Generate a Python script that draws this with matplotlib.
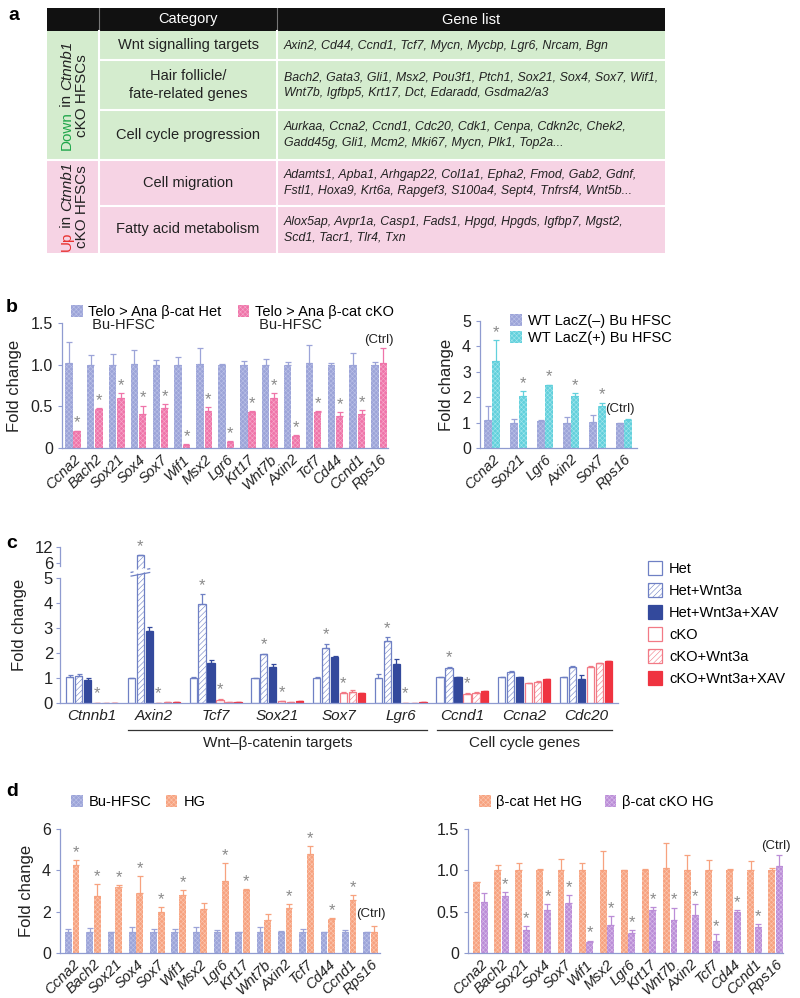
import matplotlib.pyplot as plt
import numpy as np
from matplotlib.patches import Patch, Rectangle
import matplotlib.transforms as mtransforms

plt.rcParams['font.family'] = ['Liberation Sans', 'DejaVu Sans']
plt.rcParams['hatch.linewidth'] = 0.4

W, H = 800, 998

# ---------------- data ----------------
# panel a
table_header = ['Category', 'Gene list']
table_cats = ['Wnt signalling targets', 'Hair follicle/\nfate-related genes', 'Cell cycle progression',
              'Cell migration', 'Fatty acid metabolism']
table_genes = ['Axin2, Cd44, Ccnd1, Tcf7, Mycn, Mycbp, Lgr6, Nrcam, Bgn',
               'Bach2, Gata3, Gli1, Msx2, Pou3f1, Ptch1, Sox21, Sox4, Sox7, Wif1,\nWnt7b, Igfbp5, Krt17, Dct, Edaradd, Gsdma2/a3',
               'Aurkaa, Ccna2, Ccnd1, Cdc20, Cdk1, Cenpa, Cdkn2c, Chek2,\nGadd45g, Gli1, Mcm2, Mki67, Mycn, Plk1, Top2a...',
               'Adamts1, Apba1, Arhgap22, Col1a1, Epha2, Fmod, Gab2, Gdnf,\nFstl1, Hoxa9, Krt6a, Rapgef3, S100a4, Sept4, Tnfrsf4, Wnt5b...',
               'Alox5ap, Avpr1a, Casp1, Fads1, Hpgd, Hpgds, Igfbp7, Mgst2,\nScd1, Tacr1, Tlr4, Txn']

# panel b left
genes_b = ['Ccna2', 'Bach2', 'Sox21', 'Sox4', 'Sox7', 'Wif1', 'Msx2', 'Lgr6', 'Krt17', 'Wnt7b',
           'Axin2', 'Tcf7', 'Cd44', 'Ccnd1', 'Rps16']
het_b = [1.02, 1.0, 1.0, 1.01, 1.0, 1.0, 1.01, 1.0, 1.0, 1.0, 1.0, 1.02, 1.0, 1.0, 1.0]
het_b_err = [0.25, 0.12, 0.13, 0.17, 0.06, 0.09, 0.19, 0.01, 0.05, 0.07, 0.03, 0.22, 0.02, 0.14, 0.03]
cko_b = [0.2, 0.47, 0.6, 0.41, 0.48, 0.04, 0.44, 0.07, 0.43, 0.6, 0.15, 0.43, 0.38, 0.41, 1.02]
cko_b_err = [0.01, 0.01, 0.06, 0.1, 0.05, 0.01, 0.05, 0.01, 0.01, 0.06, 0.01, 0.01, 0.05, 0.05, 0.18]
cko_b_sig = [1] * 14 + [0]

# panel b right
genes_b2 = ['Ccna2', 'Sox21', 'Lgr6', 'Axin2', 'Sox7', 'Rps16']
lacz_neg = [1.12, 1.0, 1.05, 1.0, 1.02, 0.98]
lacz_neg_err = [0.53, 0.13, 0.06, 0.22, 0.29, 0.01]
lacz_pos = [3.41, 2.03, 2.47, 2.03, 1.64, 1.12]
lacz_pos_err = [0.83, 0.2, 0.03, 0.15, 0.15, 0.01]
lacz_pos_sig = [1, 1, 1, 1, 1, 0]

# panel c
genes_c = ['Ctnnb1', 'Axin2', 'Tcf7', 'Sox21', 'Sox7', 'Lgr6', 'Ccnd1', 'Ccna2', 'Cdc20']
series_c = ['Het', 'Het+Wnt3a', 'Het+Wnt3a+XAV', 'cKO', 'cKO+Wnt3a', 'cKO+Wnt3a+XAV']
vals_c = [
    [1.03, 1.0, 1.0, 1.0, 1.0, 1.0, 1.03, 1.03, 1.03],
    [1.1, 9.0, 3.97, 1.95, 2.22, 2.5, 1.41, 1.25, 1.44],
    [0.93, 2.89, 1.62, 1.45, 1.85, 1.55, 1.03, 1.03, 0.97],
    [0.01, 0.02, 0.13, 0.07, 0.4, 0.01, 0.38, 0.8, 1.44],
    [0.01, 0.03, 0.05, 0.06, 0.44, 0.01, 0.42, 0.86, 1.59],
    [0.01, 0.03, 0.05, 0.08, 0.4, 0.03, 0.48, 0.96, 1.68],
]
errs_c = [
    [0.08, 0.02, 0.05, 0.02, 0.04, 0.18, 0.03, 0.02, 0.03],
    [0.07, 0.0, 0.39, 0.02, 0.15, 0.13, 0.03, 0.03, 0.04],
    [0.06, 0.17, 0.1, 0.12, 0.05, 0.2, 0.02, 0.02, 0.16],
    [0.0, 0.0, 0.05, 0.0, 0.03, 0.0, 0.02, 0.02, 0.04],
    [0.0, 0.0, 0.0, 0.0, 0.1, 0.0, 0.02, 0.02, 0.03],
    [0.0, 0.0, 0.0, 0.0, 0.02, 0.0, 0.02, 0.02, 0.02],
]
sig_c = [
    [0] * 9,
    [0, 1, 1, 1, 1, 1, 1, 0, 0],
    [0] * 9,
    [1, 1, 1, 1, 1, 1, 1, 0, 0],
    [0] * 9,
    [0] * 9,
]
groups_c = [('Wnt\u2013\u03b2-catenin targets', 1, 5), ('Cell cycle genes', 6, 8)]

# panel d left
genes_d = genes_b
bu_d = [1.0] * 15
bu_d_err = [0.18, 0.2, 0.03, 0.26, 0.18, 0.18, 0.27, 0.13, 0.03, 0.25, 0.06, 0.18, 0.02, 0.1, 0.03]
hg_d = [4.26, 2.76, 3.21, 2.88, 1.99, 2.8, 2.14, 3.5, 3.05, 1.59, 2.2, 4.8, 1.64, 2.56, 1.04]
hg_d_err = [0.24, 0.57, 0.08, 0.85, 0.25, 0.25, 0.3, 0.87, 0.05, 0.28, 0.15, 0.36, 0.03, 0.24, 0.29]
hg_d_sig = [1, 1, 1, 1, 1, 1, 0, 1, 1, 0, 1, 1, 1, 1, 0]

# panel d right
het_hg = [0.86, 1.0, 1.0, 1.0, 1.01, 1.0, 1.01, 1.0, 1.0, 1.03, 1.01, 1.0, 1.0, 1.0, 1.0]
het_hg_err = [0.0, 0.065, 0.09, 0.02, 0.13, 0.085, 0.22, 0.01, 0.02, 0.3, 0.17, 0.12, 0.02, 0.11, 0.03]
cko_hg = [0.62, 0.69, 0.28, 0.52, 0.61, 0.13, 0.34, 0.24, 0.52, 0.4, 0.46, 0.15, 0.49, 0.32, 1.05]
cko_hg_err = [0.1, 0.05, 0.05, 0.07, 0.09, 0.02, 0.11, 0.04, 0.04, 0.15, 0.13, 0.08, 0.03, 0.03, 0.13]
cko_hg_sig = [0, 1, 1, 1, 1, 1, 1, 1, 1, 1, 1, 1, 1, 1, 0]

# ---------------- style ----------------
AX = '#8f9bd0'
STAR = '#8a8a8a'
TXT = '#222222'
HATCH = 'xxxxxxx'
BLUE_F, BLUE_H = '#9ca4d8', '#bcc2e8'
PINK_F, PINK_H = '#ef74a9', '#f6aacb'
CYAN_F, CYAN_H = '#62d0dc', '#a3e6ec'
ORNG_F, ORNG_H = '#f7a27f', '#fbc8b2'
PURP_F, PURP_H = '#bb8dd7', '#d8bdea'

fig = plt.figure(figsize=(8, 9.98), dpi=100)


def px_axes(x0, y0, x1, y1):
    return fig.add_axes([x0 / W, 1 - y1 / H, (x1 - x0) / W, (y1 - y0) / H])


def style(ax, labels):
    for s in ['top', 'right']:
        ax.spines[s].set_visible(False)
    for s in ['left', 'bottom']:
        ax.spines[s].set_color(AX)
        ax.spines[s].set_linewidth(0.9)
    ax.tick_params(axis='y', colors=AX, labelcolor=TXT, length=3, width=0.8, labelsize=11.5)
    ax.tick_params(axis='x', length=0, labelsize=10.5, labelcolor=TXT, pad=3)
    ax.set_xticks(np.arange(len(labels)))
    ax.set_xticklabels(labels, rotation=45, ha='right', rotation_mode='anchor', fontstyle='italic')


def tex_patch(face, hatchc):
    return Patch(facecolor=face, edgecolor=hatchc, hatch=HATCH, lw=0)


def tex_bars(ax, x, vals, errs, face, hatchc, w):
    ax.bar(x, vals, w, color=face, edgecolor=hatchc, hatch=HATCH, linewidth=0)
    ax.errorbar(x, vals, yerr=[np.zeros(len(errs)), errs], fmt='none', ecolor=face,
                elinewidth=0.9, capsize=2, capthick=0.9)


def stars(ax, x, vals, errs, sig, dy=0):
    for xi, v, e, s in zip(x, vals, errs, sig):
        if s:
            ax.annotate('*', (xi, v + e), xytext=(0, dy), textcoords='offset points',
                        ha='center', va='bottom', color=STAR, fontsize=12)


def legend_box(ax, handles, labels, x, y, loc='upper left', **kw):
    opts = dict(frameon=False, fontsize=10.5, handlelength=0.8, handleheight=0.9, handletextpad=0.4,
                borderpad=0, borderaxespad=0)
    opts.update(kw)
    return ax.legend(handles, labels, loc=loc, bbox_to_anchor=(x / W, 1 - y / H),
                     bbox_transform=fig.transFigure, **opts)


# ---------------- panel a ----------------
axa = px_axes(47, 8, 665, 253)
axa.set_xlim(0, 618)
axa.set_ylim(245, 0)
axa.axis('off')
cols = [0, 52, 230, 618]
row_h = [23, 29, 50, 50, 46, 47]
edges = np.concatenate([[0], np.cumsum(row_h)])
GREEN, PINKBG = '#d4ecce', '#f6d3e4'
axa.add_patch(Rectangle((0, 0), 618, edges[1], color='#111111', lw=0))
axa.add_patch(Rectangle((0, edges[1]), 618, edges[4] - edges[1], color=GREEN, lw=0))
axa.add_patch(Rectangle((0, edges[4]), 618, edges[6] - edges[4], color=PINKBG, lw=0))
for cx in cols[1:3]:
    axa.plot([cx, cx], [0, edges[1]], color='#777777', lw=0.8)
    axa.plot([cx, cx], [edges[1], 245], color='white', lw=1.5)
for i in range(2, 6):
    x0 = 0 if i == 4 else cols[1]
    axa.plot([x0, 618], [edges[i], edges[i]], color='white', lw=1.5)
axa.text((cols[1] + cols[2]) / 2, edges[1] / 2, table_header[0], color='white', ha='center', va='center', fontsize=10.5)
axa.text((cols[2] + cols[3]) / 2, edges[1] / 2, table_header[1], color='white', ha='center', va='center', fontsize=10.5)
for i, (c, g) in enumerate(zip(table_cats, table_genes)):
    yc = (edges[i + 1] + edges[i + 2]) / 2
    axa.text((cols[1] + cols[2]) / 2, yc, c, ha='center', va='center', fontsize=10.5,
             color=TXT, linespacing=1.35)
    axa.text(cols[2] + 7, yc, g, ha='left', va='center', fontsize=8.9, fontstyle='italic',
             color=TXT, linespacing=1.4, family=['Liberation Sans Narrow', 'Liberation Sans'])

renderer = fig.canvas.get_renderer()


def rotated_line(xc, yc, parts):
    texts = []
    for s, col, st in parts:
        t = axa.text(0, 0, s, rotation=90, color=col, fontstyle=st, fontsize=11,
                     ha='center', va='bottom')
        texts.append(t)
    lens = [t.get_window_extent(renderer).height for t in texts]
    xd, yd = axa.transData.transform((xc, yc))
    ystart = yd - sum(lens) / 2
    for t, L in zip(texts, lens):
        t.set_position(axa.transData.inverted().transform((xd, ystart)))
        ystart += L


for (e0, e1, word, col) in [(edges[1], edges[4], 'Down', '#1fa64a'), (edges[4], edges[6], 'Up', '#e8312f')]:
    rotated_line(20, (e0 + e1) / 2, [(word, col, 'normal'), (' in ', TXT, 'normal'), ('Ctnnb1', TXT, 'italic')])
    rotated_line(35, (e0 + e1) / 2, [('cKO HFSCs', TXT, 'normal')])

# ---------------- panel b left ----------------
axb = px_axes(62, 323, 388, 448)
xb = np.arange(len(genes_b))
tex_bars(axb, xb - 0.19, het_b, het_b_err, BLUE_F, BLUE_H, 0.34)
tex_bars(axb, xb + 0.19, cko_b, cko_b_err, PINK_F, PINK_H, 0.34)
stars(axb, xb + 0.19, cko_b, cko_b_err, cko_b_sig)
axb.text(xb[-1], 1.3, '(Ctrl)', ha='center', va='center', fontsize=9.5, color=TXT)
axb.set_xlim(-0.5, len(genes_b) - 0.6)
axb.set_ylim(0, 1.5)
axb.set_yticks([0, 0.5, 1.0, 1.5])
axb.set_yticklabels(['0', '0.5', '1.0', '1.5'])
style(axb, genes_b)
axb.set_ylabel('Fold change', fontsize=12, color=TXT, labelpad=6)
leg = legend_box(axb, [tex_patch(BLUE_F, BLUE_H), tex_patch(PINK_F, PINK_H)],
                 ['Telo > Ana \u03b2-cat Het', 'Telo > Ana \u03b2-cat cKO'], 71, 305, ncol=2,
                 columnspacing=1.1)
for t in leg.get_texts():
    axb.annotate(' Bu-HFSC', xy=(0, 0), xycoords=t, xytext=(0, 1), textcoords='offset points',
                 ha='left', va='top', fontsize=10.5, color=TXT, annotation_clip=False, zorder=20)

# ---------------- panel b right ----------------
axb2 = px_axes(480, 321, 637, 448)
xb2 = np.arange(len(genes_b2))
tex_bars(axb2, xb2 - 0.16, lacz_neg, lacz_neg_err, BLUE_F, BLUE_H, 0.3)
tex_bars(axb2, xb2 + 0.16, lacz_pos, lacz_pos_err, CYAN_F, CYAN_H, 0.3)
stars(axb2, xb2 + 0.16, lacz_pos, lacz_pos_err, lacz_pos_sig)
axb2.text(xb2[-1] - 0.15, 1.55, '(Ctrl)', ha='center', va='center', fontsize=9.5, color=TXT)
axb2.set_xlim(-0.46, len(genes_b2) - 0.5)
axb2.set_ylim(0, 5)
axb2.set_yticks(range(6))
style(axb2, genes_b2)
axb2.set_ylabel('Fold change', fontsize=12, color=TXT, labelpad=6)
legend_box(axb2, [tex_patch(BLUE_F, BLUE_H), tex_patch(CYAN_F, CYAN_H)],
           ['WT LacZ(\u2013) Bu HFSC', 'WT LacZ(+) Bu HFSC'], 510, 314, labelspacing=0.2)

# ---------------- panel c ----------------
def fwd(y):
    y = np.asarray(y, dtype=float)
    return np.where(y <= 5, y, np.where(y <= 6, 5 + (y - 5) * 0.6, 5.6 + (y - 6) * 0.107))


def inv(z):
    z = np.asarray(z, dtype=float)
    return np.where(z <= 5, z, np.where(z <= 5.6, 5 + (z - 5) / 0.6, 6 + (z - 5.6) / 0.107))


axc = px_axes(60, 547, 618, 703)
axc.set_yscale('function', functions=(fwd, inv))
xc = np.arange(len(genes_c))
C_BLUE, C_RED = '#33499c', '#ef3340'
C_BL_E, C_RD_E = '#6f80c4', '#f27a86'
c_styles = [dict(facecolor='white', edgecolor=C_BL_E, lw=0.9),
            dict(facecolor='white', edgecolor=C_BL_E, lw=0.9, hatch='//////'),
            dict(facecolor=C_BLUE, edgecolor=C_BLUE, lw=0.9),
            dict(facecolor='white', edgecolor=C_RD_E, lw=0.9),
            dict(facecolor='white', edgecolor=C_RD_E, lw=0.9, hatch='//////'),
            dict(facecolor=C_RED, edgecolor=C_RED, lw=0.9)]
err_cols = [C_BL_E, C_BL_E, C_BLUE, C_RD_E, C_RD_E, C_RED]
step, bw = 0.145, 0.118
for i in range(6):
    xi = xc + (i - 2.5) * step
    axc.bar(xi, vals_c[i], bw, **c_styles[i])
    axc.errorbar(xi, vals_c[i], yerr=[np.zeros(len(errs_c[i])), errs_c[i]], fmt='none',
                 ecolor=err_cols[i], elinewidth=0.9, capsize=1.8, capthick=0.9)
    stars(axc, xi, vals_c[i], errs_c[i], sig_c[i], dy=1)
axc.set_xlim(-0.52, len(genes_c) - 0.48)
axc.set_ylim(0, 12)
axc.set_yticks([0, 1, 2, 3, 4, 5, 6, 12])
axc.set_yticklabels(['0', '1', '2', '3', '4', '5', '6', '12'])
for s in ['top', 'right']:
    axc.spines[s].set_visible(False)
for s in ['left', 'bottom']:
    axc.spines[s].set_color(AX)
    axc.spines[s].set_linewidth(0.9)
axc.spines['left'].set_bounds(0, 5)
axc.plot([0, 0], [5.8, 12], color=AX, lw=0.9, transform=axc.get_yaxis_transform(), clip_on=False)
axc.tick_params(axis='y', colors=AX, labelcolor=TXT, length=3, width=0.8, labelsize=12, pad=2)
axc.tick_params(axis='x', length=0, labelsize=11, labelcolor=TXT, pad=4)
axc.set_xticks(xc)
axc.set_xticklabels(genes_c, fontstyle='italic')
axc.set_ylabel('Fold change', fontsize=12, color=TXT, labelpad=5)
# axis break marks on the tallest bar
xb_break = xc[1] + (1 - 2.5) * step
for yy in [5.25, 5.5]:
    axc.plot([xb_break - 0.15, xb_break + 0.15], [yy - 0.12, yy + 0.12], color=C_BL_E, lw=0.9, clip_on=False)
axc.fill([xb_break - 0.1, xb_break + 0.1, xb_break + 0.1, xb_break - 0.1],
         [5.3, 5.45, 5.62, 5.48], color='white', zorder=3)
trans = mtransforms.blended_transform_factory(axc.transData, axc.transAxes)
for name, g0, g1 in groups_c:
    axc.plot([g0 - 0.42, g1 + 0.42], [-0.175, -0.175], color='#333333', lw=0.9, transform=trans, clip_on=False)
    axc.text((g0 + g1) / 2, -0.255, name, ha='center', va='center', fontsize=11, color=TXT, transform=trans)
legend_box(axc, [Patch(**s) for s in c_styles], series_c, 648, 561, handlelength=0.95, handleheight=1.05,
           handletextpad=0.5, labelspacing=0.5)

# ---------------- panel d left ----------------
axd = px_axes(60, 829, 380, 953)
xd = np.arange(len(genes_d))
tex_bars(axd, xd - 0.18, bu_d, bu_d_err, BLUE_F, BLUE_H, 0.32)
tex_bars(axd, xd + 0.18, hg_d, hg_d_err, ORNG_F, ORNG_H, 0.32)
stars(axd, xd + 0.18, hg_d, hg_d_err, hg_d_sig)
axd.text(xd[-1], 1.9, '(Ctrl)', ha='center', va='center', fontsize=9.5, color=TXT)
axd.set_xlim(-0.57, len(genes_d) - 0.55)
axd.set_ylim(0, 6)
axd.set_yticks([0, 2, 4, 6])
style(axd, genes_d)
axd.set_ylabel('Fold change', fontsize=12, color=TXT, labelpad=6)
legend_box(axd, [tex_patch(BLUE_F, BLUE_H), tex_patch(ORNG_F, ORNG_H)], ['Bu-HFSC', 'HG'], 71, 802,
           loc='center left', ncol=2, columnspacing=1.0)

# ---------------- panel d right ----------------
axd2 = px_axes(468, 829, 783, 953)
tex_bars(axd2, xd - 0.18, het_hg, het_hg_err, ORNG_F, ORNG_H, 0.33)
tex_bars(axd2, xd + 0.18, cko_hg, cko_hg_err, PURP_F, PURP_H, 0.33)
stars(axd2, xd + 0.18, cko_hg, cko_hg_err, cko_hg_sig)
axd2.text(xd[-1], 1.3, '(Ctrl)', ha='center', va='center', fontsize=9.5, color=TXT)
axd2.set_xlim(-0.59, len(genes_d) - 0.65)
axd2.set_ylim(0, 1.5)
axd2.set_yticks([0, 0.5, 1.0, 1.5])
axd2.set_yticklabels(['0', '0.5', '1.0', '1.5'])
style(axd2, genes_d)
legend_box(axd2, [tex_patch(ORNG_F, ORNG_H), tex_patch(PURP_F, PURP_H)],
           ['\u03b2-cat Het HG', '\u03b2-cat cKO HG'], 479, 802, loc='center left', ncol=2,
           columnspacing=1.5)

# panel letters
for lab, x, y in [('a', 8, 16), ('b', 6, 307), ('c', 6, 543), ('d', 6, 792)]:
    fig.text(x / W, 1 - y / H, lab, fontsize=14, fontweight='bold', va='center')

fig.savefig('out.png', dpi=100)
